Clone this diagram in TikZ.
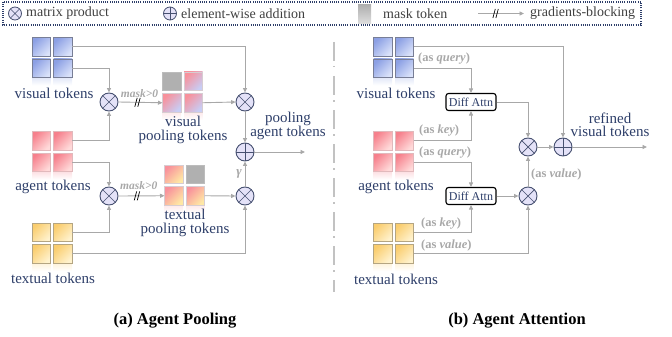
\documentclass[tikz,border=0pt]{standalone}
\usepackage{fontspec}
\setmainfont{Liberation Serif}
\usetikzlibrary{arrows.meta,calc}

\definecolor{txtblue}{RGB}{45,62,105}
\definecolor{lgray}{RGB}{168,168,168}
\definecolor{opfill}{RGB}{228,226,248}
\definecolor{opline}{RGB}{70,80,112}
\definecolor{blueA}{RGB}{140,160,228}
\definecolor{blueB}{RGB}{218,226,250}
\definecolor{redA}{RGB}{246,128,140}
\definecolor{redB}{RGB}{255,218,218}
\definecolor{yelA}{RGB}{250,205,110}
\definecolor{yelB}{RGB}{255,242,205}
\definecolor{mixred}{RGB}{248,145,155}
\definecolor{mixblue}{RGB}{200,205,245}
\definecolor{mixyel}{RGB}{255,232,165}
\definecolor{maskgray}{RGB}{176,176,176}
\definecolor{cellblue}{RGB}{120,126,150}
\definecolor{cellred}{RGB}{225,185,188}
\definecolor{cellyel}{RGB}{180,165,130}
\definecolor{celllight}{RGB}{215,205,210}

\tikzset{
  cell/.style={minimum size=18.5pt, inner sep=0pt, outer sep=0pt, line width=0.8pt},
  bluecell/.style={cell, draw=cellblue, top color=blueA, bottom color=blueB, shading angle=45},
  redcell/.style={cell, draw=cellred, top color=redA, bottom color=redB, shading angle=45},
  yelcell/.style={cell, draw=cellyel, top color=yelA, bottom color=yelB, shading angle=45},
  rbcell/.style={cell, draw=celllight, top color=mixred, bottom color=mixblue, shading angle=45},
  rycell/.style={cell, draw=celllight, top color=mixred, bottom color=mixyel, shading angle=45},
  maskcell/.style={cell, draw=maskgray!85, fill=maskgray},
  op/.style={circle, draw=opline, fill=opfill, line width=0.9pt, minimum size=18pt, inner sep=0pt},
  mul/.style={op, path picture={\draw[opline, line width=0.7pt]
      (path picture bounding box.north west) -- (path picture bounding box.south east)
      (path picture bounding box.north east) -- (path picture bounding box.south west);}},
  add/.style={op, path picture={\draw[opline, line width=0.7pt]
      (path picture bounding box.north) -- (path picture bounding box.south)
      (path picture bounding box.west) -- (path picture bounding box.east);}},
  conn/.style={draw=lgray, line width=0.9pt},
  arr/.style={conn, -{Triangle[length=4.5pt,width=4pt]}},
  lbl/.style={text=txtblue, font=\fontsize{15}{13.5}\selectfont, align=center, inner sep=0pt},
  aslbl/.style={text=lgray, font=\fontsize{12.5}{12.5}\selectfont\bfseries, inner sep=0pt, anchor=west},
  masklbl/.style={text=lgray, font=\fontsize{11.5}{11.5}\selectfont\bfseries\itshape, inner sep=0pt},
  gamlbl/.style={text=lgray, font=\fontsize{13}{13}\selectfont\bfseries\itshape, inner sep=0pt},
  diffbox/.style={draw=black, line width=1.1pt, rounded corners=2.5pt, fill=white,
      minimum width=50pt, minimum height=17pt, inner sep=1pt,
      font=\fontsize{12}{12}\selectfont, text=txtblue},
  legtxt/.style={text=black!75, font=\fontsize{14}{14}\selectfont, anchor=west, inner sep=0pt},
  caption/.style={font=\fontsize{16.5}{16.5}\selectfont\bfseries, inner sep=0pt},
  pics/blocker/.style={code={\draw[black, line width=0.7pt]
      (-2.6,4.5) -- (-0.2,-4.5) (0.4,4.5) -- (2.8,-4.5);}}
}

% 2x2 grid of tokens: name, centre, styles of the four cells, reflection colour
\newcommand\tokengrid[7]{%
  \shade[top color=#7, bottom color=white] ($(#2)+(-20,20)$) rectangle ($(#2)+(-1.5,28)$);
  \shade[top color=#7, bottom color=white] ($(#2)+(1.5,20)$) rectangle ($(#2)+(20,28)$);
  \node[#3] (#1-11) at ($(#2)+(-10.75,-10.75)$) {};
  \node[#4] (#1-12) at ($(#2)+(10.75,-10.75)$) {};
  \node[#5] (#1-21) at ($(#2)+(-10.75,10.75)$) {};
  \node[#6] (#1-22) at ($(#2)+(10.75,10.75)$) {};
}

\begin{document}
\begin{tikzpicture}[x=1pt, y=-1pt]
\useasboundingbox (0,0) rectangle (672,337);

% ---------- legend ----------
\draw[draw=txtblue, line width=1.2pt, dash pattern=on 1pt off 1.2pt] (3,2) rectangle (641,25);
\node[mul, minimum size=13pt, line width=0.8pt] (lgmul) at (15,13.5) {};
\node[legtxt] (lgmult) at (26,13.5) {matrix product};
\node[add, minimum size=13pt, line width=0.8pt] (lgadd) at (170,13.5) {};
\node[legtxt] (lgaddt) at (181,13.5) {element-wise addition};
\shade[top color=maskgray, bottom color=maskgray!40] (358,5) rectangle (371,24);
\node[legtxt] (lgmask) at (383,13.5) {mask token};
\coordinate (lga) at (478,13.5);
\coordinate (lgb) at (524,13.5);
\draw[arr] (lga) -- (lgb);
\pic at ($(lga)!0.38!(lgb)$) {blocker};
\node[legtxt] (lgblk) at (530,13.5) {gradients-blocking};

% ---------- (a) agent pooling ----------
\tokengrid{va}{52,57.5}{bluecell}{bluecell}{bluecell}{bluecell}{blueA!25}
\tokengrid{aa}{52,151.5}{redcell}{redcell}{redcell}{redcell}{redA!25}
\tokengrid{ta}{52,243}{yelcell}{yelcell}{yelcell}{yelcell}{yelA!25}
\tokengrid{vp}{182.5,92}{maskcell}{rbcell}{rbcell}{rbcell}{mixred!20}
\tokengrid{tp}{184.5,185}{rycell}{maskcell}{rycell}{rycell}{mixred!20}

\node[lbl] (vatxt) at (54,93) {visual tokens};
\node[lbl] (aatxt) at (53,187) {agent tokens};
\node[lbl] (tatxt) at (53,278) {textual tokens};
\node[lbl] (vptxt) at (183,130) {visual\\pooling tokens};
\node[lbl] (tptxt) at (185,223) {textual\\pooling tokens};
\node[lbl] (patxt) at (288,126) {pooling\\agent tokens};

\node[mul] (m1) at (109,102) {};
\node[mul] (m2) at (109,196) {};
\node[mul] (m3) at (245,102) {};
\node[mul] (m4) at (245,196) {};
\node[add] (p1) at (245,152) {};
\coordinate (out1) at (305,152);

\draw[arr] (va-12.east) -| (m3.north);
\draw[arr] (va-22.east) -| (m1.north);
\draw[arr] (aa-12.east) -| (m1.south);
\draw[arr] (aa-22.east) -| (m2.north);
\draw[arr] (ta-12.east) -| (m2.south);
\draw[arr] (ta-22.east) -| (m4.south);

\draw[arr] (m1.east) -- (vp-21.west);
\pic at ($(m1.east)!0.43!(vp-21.west)$) {blocker};
\node[masklbl] (mk1) at ($(m1.east)!0.48!(vp-21.west)+(0,-9)$) {mask>0};
\draw[arr] (m2.east) -- (tp-21.west);
\pic at ($(m2.east)!0.4!(tp-21.west)$) {blocker};
\node[masklbl] (mk2) at ($(m2.east)!0.44!(tp-21.west)+(0,-10)$) {mask>0};

\draw[arr] (vp-22.east) -- (m3.west);
\draw[arr] (tp-22.east) -- (m4.west);
\draw[arr] (m3.south) -- (p1.north);
\draw[arr] (m4.north) -- (p1.south);
\node[gamlbl] (gam) at (239,174) {γ};
\draw[arr] (p1.east) -- (out1);

% ---------- divider ----------
\draw[lgray!70, line width=2.6pt, dash pattern=on 19pt off 5pt on 1.5pt off 8.5pt] (334,42) -- (334,292);

% ---------- (b) agent attention ----------
\tokengrid{vb}{393.5,57.5}{bluecell}{bluecell}{bluecell}{bluecell}{blueA!25}
\tokengrid{ab}{393.5,151.5}{redcell}{redcell}{redcell}{redcell}{redA!25}
\tokengrid{tb}{393.5,243}{yelcell}{yelcell}{yelcell}{yelcell}{yelA!25}

\node[lbl] (vbtxt) at (396,93) {visual tokens};
\node[lbl] (abtxt) at (396,187) {agent tokens};
\node[lbl] (tbtxt) at (396,279) {textual tokens};
\node[lbl] (rftxt) at (610,125) {refined\\visual tokens};

\node[diffbox] (d1) at (471,102) {Diff Attn};
\node[diffbox] (d2) at (471,196) {Diff Attn};
\node[mul] (n1) at (528,147) {};
\node[mul] (n2) at (528,196) {};
\node[add] (q) at (563,147) {};
\coordinate (out2) at (647,147);

\draw[arr] (vb-12.east) -| (q.north);
\draw[arr] (vb-22.east) -| (d1.north);
\draw[arr] (ab-12.east) -| (d1.south);
\draw[arr] (ab-22.east) -| (d2.north);
\draw[arr] (tb-12.east) -| (d2.south);
\draw[arr] (tb-22.east) -| (n2.south);
\draw[arr] (d1.east) -| (n1.north);
\draw[arr] (d2.east) -- (n2.west);
\draw[arr] (n2.north) -- (n1.south);
\draw[arr] (n1.east) -- (q.west);
\draw[arr] (q.east) -- (out2);

\node[aslbl] (asq1) at (418,59) {(as \textit{query})};
\node[aslbl] (ask1) at (419,131) {(as \textit{key})};
\node[aslbl] (asq2) at (419,153) {(as \textit{query})};
\node[aslbl] (asv1) at (531,174) {(as \textit{value})};
\node[aslbl] (ask2) at (421,224) {(as \textit{key})};
\node[aslbl] (asv2) at (421,245) {(as \textit{value})};

% ---------- captions ----------
\node[caption] (capa) at (175,321) {(a) Agent Pooling};
\node[caption] (capb) at (517,321) {(b) Agent Attention};
\end{tikzpicture}
\end{document}
